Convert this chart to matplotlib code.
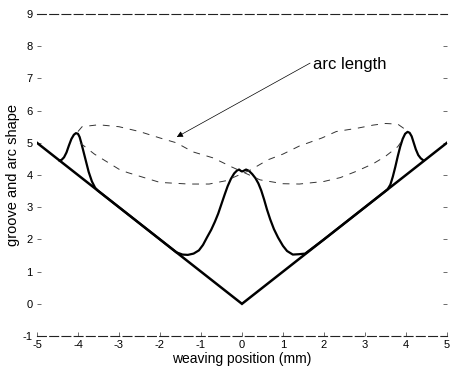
import numpy as np
import matplotlib.pyplot as plt

plt.rcParams['font.family'] = ['Liberation Sans', 'DejaVu Sans']

# groove profile (V-groove)
groove_x = [-5, 0, 5]
groove_y = [5, 0, 5]

# arc (weld bead) shape across the groove
arc_x = [-4.45, -4.40, -4.34, -4.28, -4.22, -4.16, -4.10, -4.05, -4.00, -3.96, -3.92,
         -3.87, -3.81, -3.74, -3.66, -3.58, -3.52, -3.0, -2.0, -1.6, -1.45, -1.32,
         -1.18, -1.05, -0.95, -0.85, -0.75, -0.66, -0.58, -0.50, -0.42, -0.35, -0.27,
         -0.19, -0.12, -0.07, -0.03, 0.0, 0.04, 0.10, 0.17, 0.25, 0.33, 0.40, 0.47,
         0.54, 0.61, 0.69, 0.78, 0.88, 1.0, 1.1, 1.24, 1.38, 1.54, 2.0, 3.0, 3.55,
         3.62, 3.68, 3.74, 3.80, 3.86, 3.92, 3.98, 4.04, 4.09, 4.14, 4.19, 4.24,
         4.30, 4.36, 4.43]
arc_y = [4.45, 4.47, 4.55, 4.70, 4.92, 5.12, 5.25, 5.30, 5.28, 5.18, 5.00,
         4.75, 4.45, 4.10, 3.80, 3.60, 3.52, 3.0, 2.0, 1.6, 1.53, 1.52,
         1.56, 1.66, 1.83, 2.07, 2.30, 2.55, 2.80, 3.10, 3.40, 3.65, 3.88,
         4.05, 4.14, 4.17, 4.13, 4.11, 4.13, 4.17, 4.13, 4.03, 3.90, 3.74, 3.52,
         3.24, 2.93, 2.62, 2.32, 2.06, 1.80, 1.64, 1.53, 1.54, 1.56, 2.0, 3.0, 3.55,
         3.70, 3.95, 4.25, 4.58, 4.88, 5.12, 5.28, 5.34, 5.31, 5.20, 5.00, 4.80,
         4.62, 4.52, 4.45]

# arc length curves at the two weaving extremes
arcA_x = [-4.0, -3.9, -3.5, -3.0, -2.5, -2.0, -1.6, -1.2, -0.7, -0.25, 0.44, 1.0,
          1.4, 2.0, 2.4, 2.8, 3.2, 3.5, 3.8, 3.95]
arcA_y = [5.35, 5.50, 5.56, 5.50, 5.35, 5.15, 5.00, 4.72, 4.53, 4.25, 3.85, 3.73,
          3.72, 3.80, 3.92, 4.12, 4.35, 4.58, 4.88, 5.15]
arcB_x = [-3.95, -3.6, -3.0, -2.8, -2.0, -1.3, -0.8, -0.4, 0.2, 0.63, 1.0, 1.4,
          1.95, 2.3, 2.8, 3.2, 3.5, 3.8, 4.0]
arcB_y = [5.00, 4.65, 4.18, 4.08, 3.77, 3.72, 3.72, 3.82, 4.15, 4.47, 4.65, 4.90,
          5.15, 5.35, 5.45, 5.55, 5.60, 5.58, 5.40]

fig = plt.figure(figsize=(4.51, 3.78), dpi=100)
ax = fig.add_axes([0.082, 0.111, 0.909, 0.852])

ax.plot(groove_x, groove_y, color='black', lw=1.8, solid_joinstyle='miter')
ax.plot(arc_x, arc_y, color='black', lw=1.6, solid_joinstyle='round')
ax.plot(arcA_x, arcA_y, color='#333333', lw=0.7, dashes=(7, 7))
ax.plot(arcB_x, arcB_y, color='#333333', lw=0.7, dashes=(7, 7))

ax.annotate('arc length', xy=(-1.59, 5.18), xytext=(1.73, 7.29),
            fontsize=12, va='baseline', ha='left',
            arrowprops=dict(arrowstyle='-|>', color='black', lw=0.5,
                            mutation_scale=9, shrinkA=0, shrinkB=0,
                            relpos=(0, 0.7)))

ax.set_xlim(-5, 5)
ax.set_ylim(-1, 9)
ax.set_xticks(np.arange(-5, 6, 1))
ax.set_yticks(np.arange(-1, 10, 1))
ax.set_xticklabels([str(v) for v in range(-5, 6)])
ax.set_yticklabels([str(v) for v in range(-1, 10)])
ax.tick_params(direction='in', length=3, width=0.6, labelsize=8, pad=3,
               color='#555555', right=True, top=False)

for side in ['left', 'right']:
    ax.spines[side].set_visible(False)
for side in ['top', 'bottom']:
    ax.spines[side].set_linestyle((0, (8, 3)))
    ax.spines[side].set_linewidth(0.8)
    ax.spines[side].set_color('#222222')

ax.set_xlabel('weaving position (mm)', fontsize=10, labelpad=1)
ax.set_ylabel('groove and arc shape', fontsize=10.5, labelpad=2)

fig.savefig('out.png', dpi=100)
